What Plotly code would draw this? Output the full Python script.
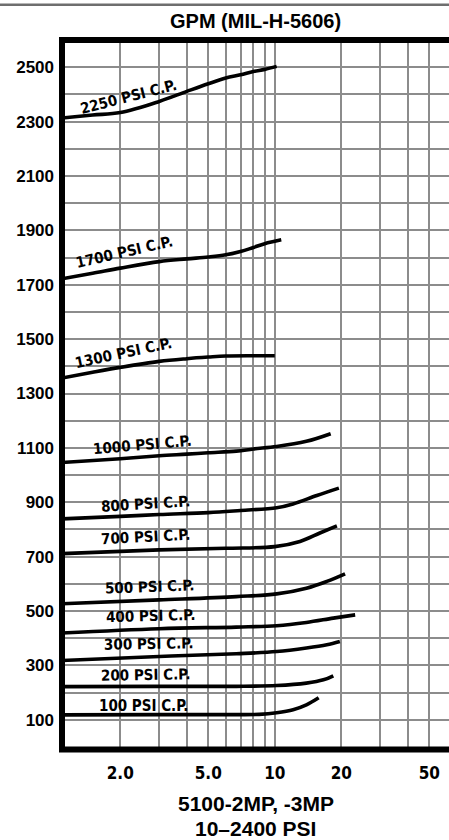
import math
import plotly.graph_objects as go

# ---- data ----
curve_labels = ["2250 PSI C.P.", "1700 PSI C.P.", "1300 PSI C.P.", "1000 PSI C.P.",
                "800 PSI C.P.", "700 PSI C.P.", "500 PSI C.P.", "400 PSI C.P.",
                "300 PSI C.P.", "200 PSI C.P.", "100 PSI C.P."]

x_2250 = [1.09, 1.5, 2, 3, 4, 5, 6, 7, 8, 9, 10.2]
y_2250 = [2313, 2324, 2333, 2374, 2411, 2439, 2460, 2472, 2484, 2492, 2503]

x_1700 = [1.09, 1.5, 2, 3, 4, 5, 6, 7, 8, 9, 10.7]
y_1700 = [1722, 1742, 1761, 1785, 1795, 1802, 1810, 1822, 1837, 1851, 1865]

x_1300 = [1.09, 1.5, 2, 3, 4, 5, 6, 8, 10]
y_1300 = [1357, 1378, 1396, 1418, 1428, 1434, 1438, 1439, 1439]

x_1000 = [1.09, 2, 3, 4, 5, 6.7, 8, 10.2, 13.9, 17.9]
y_1000 = [1046, 1060, 1071, 1077, 1082, 1088, 1096, 1105, 1124, 1152]

x_800 = [1.09, 2, 3, 5, 7, 10.2, 12.1, 15.5, 19.5]
y_800 = [839, 848, 855, 862, 870, 880, 894, 925, 952]

x_700 = [1.09, 3, 6, 10, 13, 16, 19.1]
y_700 = [711, 725, 731, 737, 756, 787, 813]

x_500 = [1.09, 3, 6.7, 10.2, 13.9, 17.2, 20.8]
y_500 = [527, 541, 553, 563, 584, 609, 637]

x_400 = [1.09, 3, 6.7, 10.2, 13.9, 18.4, 23.1]
y_400 = [419, 435, 441, 446, 458, 474, 486]

x_300 = [1.09, 3, 6.7, 10.2, 13.9, 17.2, 19.7]
y_300 = [318, 333, 343, 351, 364, 376, 388]

x_200 = [1.09, 3, 6.7, 10.2, 13.9, 16.6, 18.4]
y_200 = [222, 223, 223, 226, 235, 247, 262]

x_100 = [1.09, 3, 6.7, 8.5, 10.2, 12.1, 13.9, 15.8]
y_100 = [118, 119, 119, 120, 126, 137, 155, 181]

x_gridvals = [2, 3, 4, 5, 6, 7, 8, 9, 10, 20, 30, 40, 50]
x_ticktext = ["2.0", "", "", "5.0", "", "", "", "", "10", "20", "", "", "50"]
y_tickvals = [100, 300, 500, 700, 900, 1100, 1300, 1500, 1700, 1900, 2100, 2300, 2500]

title_text = "GPM (MIL-H-5606)"
xtitle_line1 = "5100-2MP, -3MP"
xtitle_line2 = "10\u20132400 PSI"

# ---- label placement (style, not data) ----
label_x = [2.17, 2.10, 2.07, 2.52, 2.60, 2.61, 2.70, 2.75, 2.68, 2.59, 2.54]
label_y = [2392, 1819, 1449, 1109, 894, 772, 590, 481, 380, 263, 149]
label_angle = [-14.5, -13, -12, -5, -3.5, -3, -2, -1.5, -1, -1, 0]

curves_x = [x_2250, x_1700, x_1300, x_1000, x_800, x_700, x_500, x_400, x_300, x_200, x_100]
curves_y = [y_2250, y_1700, y_1300, y_1000, y_800, y_700, y_500, y_400, y_300, y_200, y_100]

NARROW = "Liberation Sans Narrow, Arial Narrow, DejaVu Sans Condensed, sans-serif"
ARIAL = "Liberation Sans, Arial, sans-serif"

fig = go.Figure()
for cx, cy in zip(curves_x, curves_y):
    fig.add_trace(go.Scatter(x=cx, y=cy, mode="lines",
                             line=dict(color="black", width=3.6, shape="spline", smoothing=1.0),
                             hoverinfo="skip"))

for txt, lx, ly, ang in zip(curve_labels, label_x, label_y, label_angle):
    fig.add_annotation(x=math.log10(lx), y=ly, text=txt, showarrow=False,
                       textangle=ang, xanchor="center", yanchor="middle",
                       font=dict(family=NARROW, size=15, color="black", weight="bold"))

W, H = 449, 840
ML, MR, MT, MB = 62, 0, 40, 93
PH = H - MT - MB
PW = W - ML - MR

def py(p):
    return (H - MB - p) / PH

fig.update_layout(
    width=W, height=H,
    margin=dict(l=ML, r=MR, t=MT, b=MB),
    plot_bgcolor="white", paper_bgcolor="white",
    showlegend=False,
    xaxis=dict(type="log", range=[math.log10(1.09), math.log10(61.4)],
               tickmode="array", tickvals=x_gridvals, ticktext=x_ticktext,
               showgrid=True, gridcolor="#8c8c8c", gridwidth=1.8,
               zeroline=False, showline=False, ticks="",
               ticklabelstandoff=14,
               tickfont=dict(family=NARROW, size=17, color="black", weight="bold")),
    yaxis=dict(range=[0, 2600], tickmode="array", tickvals=y_tickvals,
               showgrid=True, gridcolor="#8c8c8c", gridwidth=1.8,
               minor=dict(tickmode="linear", tick0=0, dtick=100, showgrid=True,
                          gridcolor="#8c8c8c", gridwidth=1.8, ticks=""),
               zeroline=False, showline=False, ticks="",
               ticklabelstandoff=7,
               tickfont=dict(family=ARIAL, size=17, color="black", weight="bold")),
)

# frame
fig.add_shape(type="rect", xref="paper", yref="paper", x0=0, x1=1.05, y0=-0.0035, y1=1,
              line=dict(color="black", width=6), layer="above")
# top separator line
fig.add_shape(type="line", xref="paper", yref="paper", x0=-ML / PW, x1=1.05,
              y0=py(4.7), y1=py(4.7), line=dict(color="#6e6e6e", width=2.6))

fig.add_annotation(xref="paper", yref="paper", x=0.5, y=py(21), text=title_text,
                   showarrow=False, xanchor="center", yanchor="middle",
                   font=dict(family=ARIAL, size=20, color="black", weight="bold"))
fig.add_annotation(xref="paper", yref="paper", x=0.5, y=py(803), text=xtitle_line1,
                   showarrow=False, xanchor="center", yanchor="middle",
                   font=dict(family=ARIAL, size=21, color="black", weight="bold"))
fig.add_annotation(xref="paper", yref="paper", x=0.5, y=py(828), text=xtitle_line2,
                   showarrow=False, xanchor="center", yanchor="middle",
                   font=dict(family=ARIAL, size=21, color="black", weight="bold"))

fig.write_html("out.html",
               config={"displayModeBar": False},
               post_script="document.body.style.margin='0';document.body.style.padding='0';"
                           "document.documentElement.style.overflow='hidden';")
